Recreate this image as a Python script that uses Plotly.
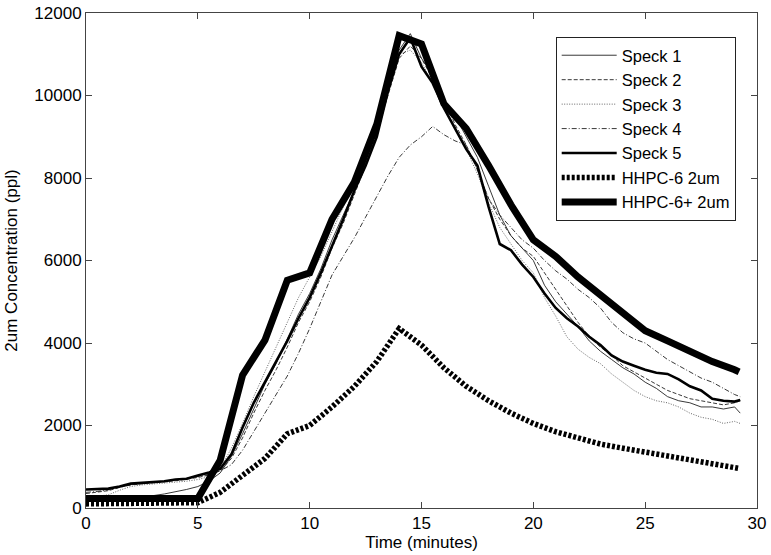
import plotly.graph_objects as go

# ---------------- data ----------------
t_speck = [0, 0.5, 1, 1.5, 2, 2.5, 3, 3.5, 4, 4.5, 5, 5.5, 6, 6.5, 7, 7.5, 8, 8.5, 9, 9.5,
           10, 10.5, 11, 11.5, 12, 12.5, 13, 13.5, 14, 14.5, 15, 15.5, 16, 16.5, 17, 17.5, 18, 18.5, 19, 19.5,
           20, 20.5, 21, 21.5, 22, 22.5, 23, 23.5, 24, 24.5, 25, 25.5, 26, 26.5, 27, 27.5, 28, 28.5, 29, 29.25]

speck1 = [230, 220, 230, 240, 260, 280, 300, 340, 390, 450, 520, 650, 850, 1250, 1800, 2400, 3000, 3500, 4100, 4700,
          5200, 5800, 6500, 7100, 7700, 8400, 9200, 10200, 11100, 11500, 10900, 10500, 9900, 9500, 9000, 8500, 7800, 7100, 6600, 6300,
          6000, 5400, 5000, 4700, 4400, 4050, 3800, 3600, 3400, 3250, 3050, 2900, 2700, 2600, 2550, 2450, 2450, 2400, 2450, 2300]

speck2 = [350, 380, 420, 500, 560, 590, 610, 640, 660, 700, 740, 800, 900, 1200, 1700, 2300, 2850, 3350, 3900, 4500,
          5000, 5600, 6300, 6900, 7600, 8300, 9100, 10000, 10900, 11200, 10900, 10400, 9900, 9300, 8800, 8200, 7500, 7000, 6600, 6300,
          6100, 5700, 5300, 4900, 4500, 4150, 3900, 3700, 3450, 3300, 3150, 3000, 2850, 2750, 2650, 2600, 2550, 2500, 2550, 2600]

speck3 = [250, 280, 320, 430, 520, 560, 580, 600, 620, 650, 690, 760, 950, 1450, 2050, 2700, 3300, 3900, 4500, 5100,
          5600, 6100, 6700, 7300, 7900, 8600, 9400, 10300, 11000, 11100, 10800, 10300, 9700, 9200, 8700, 8100, 7400, 6800, 6400, 6000,
          5700, 5100, 4650, 4150, 3850, 3650, 3500, 3250, 3050, 2850, 2700, 2600, 2550, 2450, 2300, 2200, 2150, 2050, 2100, 2050]

speck4 = [380, 400, 440, 500, 560, 600, 620, 650, 680, 720, 760, 820, 900, 1050, 1400, 1850, 2300, 2750, 3200, 3750,
          4350, 5000, 5650, 6100, 6550, 7050, 7550, 8050, 8500, 8800, 9000, 9250, 9050, 8900, 8800, 8200, 7500, 7100, 6800, 6500,
          6300, 6000, 5750, 5550, 5300, 5100, 4850, 4500, 4250, 4100, 4000, 3800, 3600, 3450, 3300, 3150, 3050, 2900, 2750, 2700]

speck5 = [450, 460, 470, 520, 590, 610, 630, 650, 690, 710, 790, 860, 950, 1300, 1950, 2550, 3050, 3550, 4050, 4600,
          5100, 5700, 6350, 7000, 7700, 8300, 9000, 10100, 11000, 11400, 10700, 10300, 9700, 9200, 8700, 8300, 7300, 6400, 6250, 5900,
          5600, 5200, 4850, 4600, 4400, 4150, 3950, 3700, 3550, 3450, 3350, 3280, 3250, 3120, 2950, 2850, 2650, 2600, 2580, 2620]

t_hhpc = [0, 1, 2, 3, 4, 5, 6, 7, 8, 9, 10, 11, 12, 13, 14, 15, 16, 17, 18, 19,
          20, 21, 22, 23, 24, 25, 26, 27, 28, 29, 29.2]

hhpc6 = [100, 100, 100, 100, 100, 130, 380, 780, 1200, 1800, 2000, 2450, 2950, 3550, 4350, 3950, 3400, 2950, 2600, 2300,
         2050, 1850, 1700, 1550, 1450, 1350, 1250, 1150, 1050, 980, 960]

hhpc6plus = [230, 230, 230, 230, 230, 230, 1160, 3220, 4070, 5520, 5700, 7000, 7900, 9300, 11450, 11250, 9800, 9200, 8300, 7350,
             6500, 6100, 5600, 5150, 4700, 4300, 4050, 3800, 3550, 3350, 3300]

x_ticks = [0, 5, 10, 15, 20, 25, 30]
y_ticks = [0, 2000, 4000, 6000, 8000, 10000, 12000]

# ---------------- figure ----------------
FONT = "Liberation Sans, Arial, Helvetica, sans-serif"
FS = 17

fig = go.Figure()

series = [
    ("Speck 1", t_speck, speck1, dict(color="#222222", width=0.9, dash="solid")),
    ("Speck 2", t_speck, speck2, dict(color="#222222", width=0.9, dash="4px,2px")),
    ("Speck 3", t_speck, speck3, dict(color="#555555", width=0.9, dash="1px,1.5px")),
    ("Speck 4", t_speck, speck4, dict(color="#222222", width=0.9, dash="5px,2px,1px,2px")),
    ("Speck 5", t_speck, speck5, dict(color="black", width=2.6, dash="solid")),
    ("HHPC-6 2um", t_hhpc, hhpc6, dict(color="black", width=5.5, dash="3px,2px")),
    ("HHPC-6+ 2um", t_hhpc, hhpc6plus, dict(color="black", width=7, dash="solid")),
]

for name, xs, ys, line in series:
    fig.add_trace(go.Scatter(x=xs, y=ys, mode="lines", name=name, line=line))

axis_common = dict(
    showgrid=False, zeroline=False, automargin=False,
    showline=True, linecolor="#444444", linewidth=1,
    mirror="ticks", ticks="inside", ticklen=6, tickcolor="#444444",
    ticklabeloverflow="allow",
    tickfont=dict(family=FONT, size=FS, color="black"),
)

fig.update_xaxes(range=[0, 30], tickvals=x_ticks, ticktext=[str(v) for v in x_ticks],
                 title=dict(text="Time (minutes)", font=dict(family=FONT, size=FS, color="black"), standoff=2),
                 **axis_common)
fig.update_yaxes(range=[0, 12000], tickvals=y_ticks, ticktext=[str(v) for v in y_ticks],
                 title=dict(text="2um Concentration (ppl)", font=dict(family=FONT, size=FS, color="black"), standoff=12),
                 **axis_common)

fig.update_layout(
    width=771, height=555,
    margin=dict(l=86, r=14, t=13, b=47),
    paper_bgcolor="white", plot_bgcolor="white",
    font=dict(family=FONT, size=FS, color="black"),
    showlegend=True,
    legend=dict(
        x=0.700, y=0.9515, xanchor="left", yanchor="top",
        bgcolor="white", bordercolor="#222222", borderwidth=1,
        font=dict(family=FONT, size=16.5, color="black"),
        itemwidth=55,
    ),
)

# remove the page's default 8px body margin so the figure fills the window exactly
fig.write_html("out.html",
               config={"displayModeBar": False},
               post_script="document.body.style.margin='0';document.body.style.overflow='hidden';")
